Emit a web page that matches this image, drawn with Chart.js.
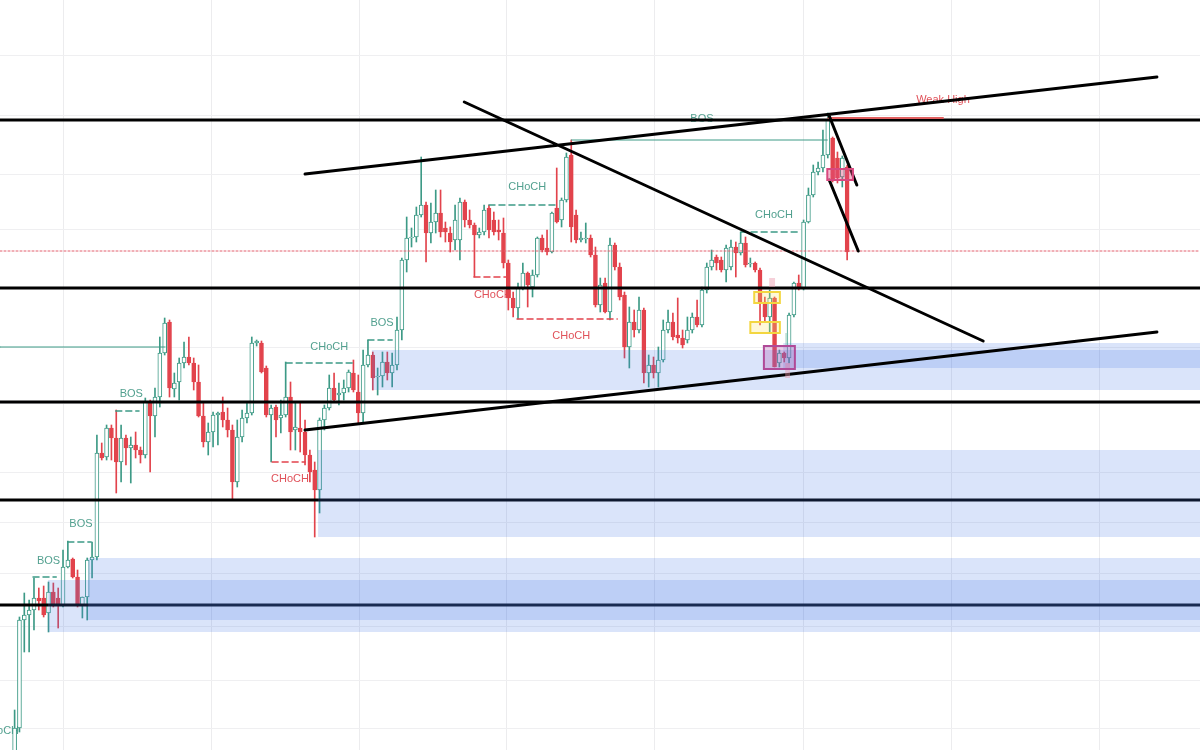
<!DOCTYPE html>
<html>
<head>
<meta charset="utf-8">
<title>Price structure</title>
<script src="https://cdn.jsdelivr.net/npm/chart.js@4.4.1/dist/chart.umd.min.js"></script>
<style>
    html, body { margin: 0; padding: 0; background: #ffffff; }
    #wrap { width: 1200px; height: 750px; }
</style>
</head>
<body>
<div id="wrap"><canvas id="chart"></canvas></div>
<script>
// candles, one per bar index (0..172), price units
const opens = [
    -5, 22, 130, 135, 140, 152, 152, 137, 158, 152, 145, 183, 191, 173, 145, 153, 190, 193, 297, 293,
    322, 312, 288, 312, 302, 305, 300, 295, 348, 334, 353, 397, 428, 361, 368, 387, 393, 387, 368, 334,
    308, 318, 335, 338, 330, 320, 268, 313, 332, 337, 407, 407, 382, 335, 343, 332, 335, 353, 320, 322,
    318, 295, 280, 260, 330, 342, 362, 355, 357, 362, 377, 358, 337, 385, 395, 373, 374, 388, 377, 385,
    420, 490, 512, 513, 535, 545, 517, 528, 537, 522, 517, 510, 510, 548, 530, 525, 515, 518, 542, 530,
    520, 517, 487, 452, 442, 462, 477, 463, 475, 512, 502, 498, 542, 530, 550, 595, 535, 510, 511, 512,
    495, 445, 467, 438, 505, 483, 455, 403, 428, 420, 440, 377, 385, 377, 390, 420, 428, 415, 412, 410,
    420, 433, 425, 460, 483, 493, 490, 480, 483, 503, 497, 507, 486, 487, 480, 448, 433, 452, 387, 397,
    392, 435, 467, 462, 528, 555, 578, 582, 595, 612, 592, 573, 583
];
const highs = [
    40, 133, 157, 150, 172, 162, 164, 168, 167, 162, 200, 209, 192, 180, 153, 192, 208, 315, 307, 325,
    325, 340, 325, 315, 313, 318, 303, 352, 350, 362, 413, 432, 430, 377, 392, 408, 413, 392, 385, 347,
    327, 338, 338, 353, 342, 325, 330, 340, 348, 413, 410, 409, 384, 345, 345, 350, 388, 368, 348, 348,
    330, 300, 288, 332, 345, 375, 377, 367, 370, 380, 390, 375, 400, 410, 398, 382, 398, 398, 397, 433,
    492, 533, 522, 543, 593, 548, 547, 560, 560, 528, 523, 545, 552, 550, 540, 527, 522, 545, 545, 538,
    530, 532, 490, 458, 467, 487, 478, 480, 513, 515, 520, 538, 582, 552, 597, 610, 540, 518, 527, 515,
    503, 472, 472, 512, 507, 487, 458, 443, 440, 453, 442, 395, 393, 403, 430, 440, 437, 452, 420, 433,
    437, 450, 463, 487, 500, 495, 493, 505, 510, 508, 518, 513, 492, 488, 482, 453, 460, 453, 400, 398,
    437, 468, 475, 530, 562, 585, 588, 620, 637, 613, 598, 594, 585
];
const lows = [
    -10, 18, 98, 98, 120, 140, 133, 118, 143, 122, 143, 182, 172, 143, 132, 130, 172, 190, 290, 290,
    290, 257, 268, 285, 267, 292, 287, 292, 278, 313, 343, 395, 353, 353, 350, 382, 385, 360, 333, 303,
    295, 303, 305, 323, 313, 250, 263, 308, 327, 335, 404, 377, 333, 288, 313, 317, 333, 300, 300, 298,
    285, 268, 213, 237, 320, 340, 348, 345, 350, 358, 358, 327, 327, 383, 360, 355, 363, 370, 363, 380,
    410, 478, 503, 508, 533, 488, 507, 517, 513, 508, 498, 500, 490, 523, 522, 473, 512, 515, 512, 515,
    510, 482, 440, 433, 431, 460, 443, 453, 473, 498, 495, 497, 527, 523, 548, 508, 507, 508, 507, 493,
    443, 438, 437, 430, 480, 450, 392, 382, 413, 417, 367, 363, 372, 363, 388, 417, 410, 407, 402, 407,
    417, 423, 423, 457, 480, 480, 478, 468, 480, 473, 495, 483, 483, 478, 425, 428, 417, 383, 383, 388,
    387, 433, 460, 460, 527, 553, 575, 578, 592, 568, 567, 563, 490
];
const closes = [
    22, 130, 135, 140, 152, 149, 135, 158, 145, 145, 183, 190, 173, 145, 153, 190, 193, 297, 292, 322,
    312, 288, 312, 302, 305, 300, 295, 348, 334, 353, 397, 427, 362, 367, 387, 393, 387, 368, 334, 308,
    318, 335, 337, 330, 320, 268, 313, 332, 337, 407, 409, 378, 335, 342, 330, 335, 353, 318, 323, 318,
    295, 278, 260, 330, 342, 362, 350, 357, 362, 378, 360, 337, 385, 395, 372, 374, 388, 377, 385, 420,
    490, 512, 513, 535, 545, 517, 528, 537, 518, 518, 508, 530, 548, 530, 525, 515, 518, 540, 520, 518,
    518, 487, 452, 442, 462, 477, 465, 475, 512, 500, 498, 537, 528, 550, 593, 523, 510, 512, 512, 495,
    445, 465, 438, 505, 483, 453, 403, 428, 420, 440, 377, 385, 377, 390, 420, 428, 413, 412, 405, 420,
    433, 425, 460, 483, 490, 487, 480, 502, 503, 497, 507, 485, 487, 480, 448, 433, 452, 383, 397, 392,
    435, 467, 462, 528, 555, 578, 582, 595, 630, 570, 572, 592, 498
];

// view window (bar index / price)
const X_MIN = -3.02, X_MAX = 244.9;
const Y_MIN = 0, Y_MAX = 750;

// background grid
const xGridTicks = [10, 40.6, 71.2, 101.7, 132.3, 162.9, 193.5, 224.1];
const yGridTicks = [694, 634, 576, 520, 462, 403, 346, 278, 228, 177, 124, 70, 22];

// key horizontal levels
const keyLevels = [630, 462, 348, 250, 145];

// trend lines: [fromIndex, fromPrice, toIndex, toPrice]
const trendLines = [
    [60.0, 576, 236.0, 673],
    [92.9, 648, 200.1, 409],
    [60.0, 320, 236.0, 418],
    [168.3, 634, 174.0, 565],
    [168.3, 570, 174.3, 499]
];

// structure breaks: [fromIndex, toIndex, price]
const bullBreaks = [
    [3.8, 8.6, 173], [11.0, 15.8, 208], [20.9, 25.7, 339], [56.1, 70.5, 387],
    [73.0, 78.0, 410], [98.0, 112.1, 545], [150.1, 161.9, 518]
];
const bearBreaks = [[53.2, 60.0, 288], [94.9, 101.7, 473], [103.8, 124.5, 431]];

// swing references
const swingRefs = [[X_MIN, 31.1, 403], [115.0, 167.9, 610]];
const weakHigh = [168.1, 191.8, 632];
const lastPrice = 499;

// demand zones: [fromIndex, top, bottom]
const zones = [
    [73.8, 400, 360], [158.8, 407, 382], [62.7, 300, 213], [6.9, 170, 118], [15.2, 192, 130]
];

// marked boxes: [fromIndex, toIndex, top, bottom]
const yellowBoxes = [[152.8, 158.1, 458, 447], [152.0, 158.1, 428, 417]];
const purpleBoxes = [[154.8, 161.2, 404, 381]];
const pinkBoxes = [[167.9, 173.2, 581, 570]];
const ghostPink = [[155.9, 157.1, 472, 463], [159.2, 160.2, 387, 372]];
const ghostTeal = [[159.2, 159.8, 417, 403]];

// labels: [text, index, price]
const bullLabels = [
    ['BOS', 7.0, 189], ['BOS', 13.7, 226], ['BOS', 24.1, 356], ['CHoCH', 65.0, 403],
    ['BOS', 75.9, 427], ['CHoCH', 105.9, 563], ['CHoCH', 156.9, 535], ['BOS', 142.0, 631],
    ['CHoCH', -3.0, 19]
];
const bearLabels = [
    ['CHoCH', 56.9, 271], ['CHoCH', 98.8, 455], ['CHoCH', 115.0, 414]
];
const weakHighLabel = ['Weak High', 191.8, 650];

const UP = '#3d9a86';
const DOWN = '#e2434c';
const TEAL_TXT = '#52a08f';
const RED_TXT = '#e0525a';

const idx = opens.map((_, i) => i);
const isUp = i => closes[i] >= opens[i];

function segments(list) {
    const out = [];
    list.forEach(([x0, y0, x1, y1]) => {
        out.push({ x: x0, y: y0 }, { x: x1, y: y1 }, { x: x1, y: null });
    });
    return out;
}

const levelData = segments(keyLevels.map(p => [X_MIN, p, X_MAX, p]));
const trendData = segments(trendLines);
const bullData = segments(bullBreaks.map(([a, b, p]) => [a, p, b, p]));
const bearData = segments(bearBreaks.map(([a, b, p]) => [a, p, b, p]));
const refData = segments(swingRefs.map(([a, b, p]) => [a, p, b, p]));
const weakData = segments([[weakHigh[0], weakHigh[2], weakHigh[1], weakHigh[2]]]);
const lastData = segments([[X_MIN, lastPrice, X_MAX, lastPrice]]);

function lineSet(label, data, color, width, order, dash) {
    return {
        type: 'line', label, data, order,
        borderColor: color, borderWidth: width, borderDash: dash || [],
        pointRadius: 0, fill: false, tension: 0, spanGaps: false,
        borderCapStyle: 'round'
    };
}

function drawBoxes(chart, list, stroke, fill, width) {
    const { ctx, scales: { x, y } } = chart;
    ctx.save();
    list.forEach(([i0, i1, top, bottom]) => {
        const l = x.getPixelForValue(i0), r = x.getPixelForValue(i1);
        const t = y.getPixelForValue(top), b = y.getPixelForValue(bottom);
        ctx.fillStyle = fill;
        ctx.fillRect(l, t, r - l, b - t);
        if (stroke) {
            ctx.strokeStyle = stroke;
            ctx.lineWidth = width;
            ctx.strokeRect(l, t, r - l, b - t);
        }
    });
    ctx.restore();
}

function drawLabels(chart, list, color, size) {
    const { ctx, scales: { x, y } } = chart;
    ctx.save();
    ctx.font = size + 'px "Liberation Sans", Arial, sans-serif';
    ctx.fillStyle = color;
    ctx.textAlign = 'center';
    ctx.textBaseline = 'middle';
    list.forEach(([text, i, p]) => {
        ctx.fillText(text, x.getPixelForValue(i), y.getPixelForValue(p));
    });
    ctx.restore();
}

const overlay = {
    id: 'overlay',
    beforeDatasetsDraw(chart) {
        drawLabels(chart, bullLabels, TEAL_TXT, 11);
        drawLabels(chart, bearLabels, RED_TXT, 11);
        drawLabels(chart, [weakHighLabel], RED_TXT, 11);
    },
    afterDatasetDraw(chart, args) {
        if (chart.data.datasets[args.index].label !== 'levels') return;
        const { ctx, chartArea, scales: { x, y } } = chart;
        ctx.save();
        ctx.fillStyle = 'rgba(72, 122, 232, 0.2)';
        zones.forEach(([i0, top, bottom]) => {
            const l = x.getPixelForValue(i0);
            const t = y.getPixelForValue(top);
            ctx.fillRect(l, t, chartArea.right - l, y.getPixelForValue(bottom) - t);
        });
        ctx.restore();
    },
    afterDatasetsDraw(chart) {
        drawBoxes(chart, ghostPink, null, 'rgba(236, 150, 170, 0.45)', 0);
        drawBoxes(chart, ghostTeal, null, 'rgba(120, 190, 175, 0.45)', 0);
        drawBoxes(chart, yellowBoxes, '#f3d640', 'rgba(250, 228, 100, 0.25)', 2);
        drawBoxes(chart, purpleBoxes, '#b04a98', 'rgba(175, 90, 175, 0.3)', 2);
        drawBoxes(chart, pinkBoxes, '#d8497f', 'rgba(226, 80, 130, 0.4)', 2);
    }
};

new Chart(document.getElementById('chart'), {
    type: 'bar',
    data: {
        datasets: [
            lineSet('trend', trendData, '#000000', 3, 1),
            lineSet('bull breaks', bullData, UP, 1.5, 2, [6, 4]),
            lineSet('bear breaks', bearData, DOWN, 1.5, 2, [6, 4]),
            lineSet('swing refs', refData, UP, 1, 2),
            lineSet('weak high', weakData, '#e05f5f', 2, 2),
            lineSet('last price', lastData, '#e2606e', 1, 2, [2, 2]),
            lineSet('levels', levelData, '#000000', 3, 3),
            {
                label: 'bodies',
                order: 4,
                data: idx.map(i => ({ x: i, y: [opens[i], closes[i]] })),
                backgroundColor: idx.map(i => isUp(i) ? '#ffffff' : DOWN),
                borderColor: idx.map(i => isUp(i) ? UP : DOWN),
                borderWidth: 1,
                borderSkipped: false,
                barThickness: 4,
                minBarLength: 1,
                grouped: false
            },
            {
                label: 'wicks',
                order: 5,
                data: idx.map(i => ({ x: i, y: [lows[i], highs[i]] })),
                backgroundColor: idx.map(i => isUp(i) ? UP : DOWN),
                borderWidth: 0,
                barThickness: 1,
                grouped: false
            }
        ]
    },
    options: {
        responsive: true,
        maintainAspectRatio: false,
        animation: false,
        layout: { padding: 0 },
        plugins: { legend: { display: false }, tooltip: { enabled: false } },
        scales: {
            x: {
                type: 'linear',
                min: X_MIN,
                max: X_MAX,
                offset: false,
                afterBuildTicks: scale => { scale.ticks = xGridTicks.map(v => ({ value: v })); },
                ticks: { display: false },
                border: { display: false },
                grid: { color: '#ececee', drawTicks: false, offset: false }
            },
            y: {
                min: Y_MIN,
                max: Y_MAX,
                afterBuildTicks: scale => { scale.ticks = yGridTicks.map(v => ({ value: v })); },
                ticks: { display: false },
                border: { display: false },
                grid: { color: '#efeff1', drawTicks: false }
            }
        }
    },
    plugins: [overlay]
});
</script>
</body>
</html>
